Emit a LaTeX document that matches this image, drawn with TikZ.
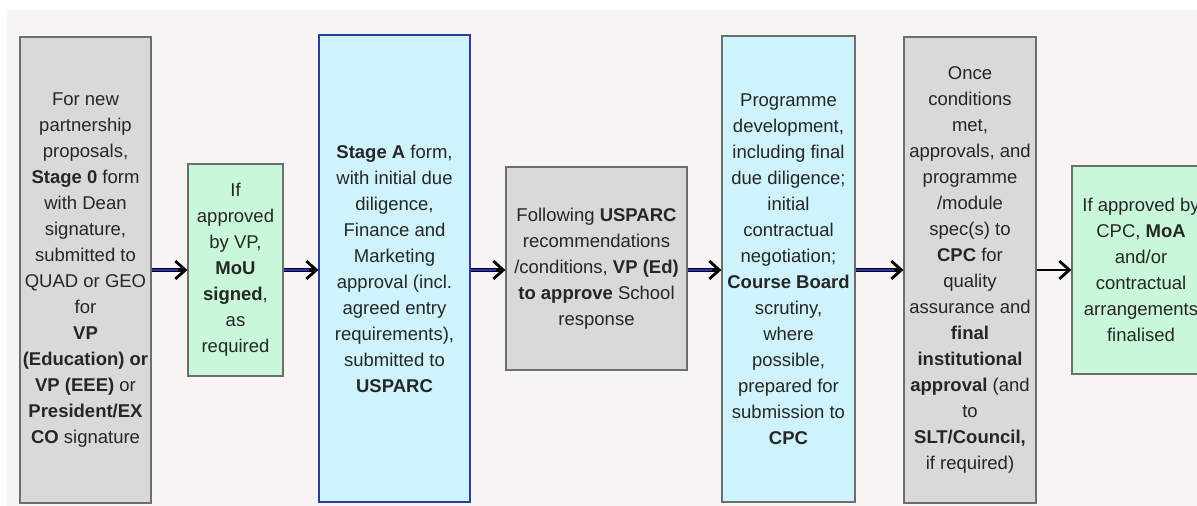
\documentclass[tikz,border=0pt]{standalone}
\usepackage{fontspec}
\setmainfont{Liberation Sans}
\usetikzlibrary{arrows.meta}
\definecolor{bgc}{HTML}{F6F5F3}
\definecolor{grayfill}{HTML}{D9D9D9}
\definecolor{grayline}{HTML}{6E6E6E}
\definecolor{greenfill}{HTML}{C9F7DA}
\definecolor{bluefill}{HTML}{CFF3FB}
\definecolor{blueline}{HTML}{2E3D98}
\definecolor{txt}{HTML}{262626}
\definecolor{arrblue}{HTML}{2830C8}
\tikzset{
  box/.style={rectangle, draw=grayline, line width=1.2pt, align=center, text=txt,
    inner sep=1pt, font=\fontsize{18.5}{26}\selectfont},
  graybox/.style={box, fill=grayfill},
  greenbox/.style={box, fill=greenfill},
  bluebox/.style={box, fill=bluefill},
  head/.style={-{Straight Barb[length=10pt,width=18pt,line width=2.8pt]}},
  outerarrow/.style={head, line width=4.6pt, black},
  innerarrow/.style={line width=2pt, arrblue, shorten >=9pt},
  plainarrow/.style={head, line width=2.8pt, black}
}
\begin{document}
\begin{tikzpicture}[x=1pt,y=-1pt]
\useasboundingbox (0,0) rectangle (1197,506);
\clip (0,0) rectangle (1197,506);
\fill[white] (0,0) rectangle (1197,506);
\fill[bgc] (7,10) rectangle (1197,506);

\node[graybox, minimum width=131pt, minimum height=466pt] (b1) at (85.5,270)
 {For new\\partnership\\proposals,\\\textbf{Stage 0} form\\with Dean\\signature,\\submitted to\\QUAD or GEO\\for\\\textbf{VP}\\\textbf{(Education) or}\\\textbf{VP (EEE)} or\\\textbf{President/EX}\\\textbf{CO} signature};
\node[greenbox, minimum width=95pt, minimum height=212pt] (b2) at (235.5,270)
 {If\\approved\\by VP,\\\textbf{MoU}\\\textbf{signed},\\as\\required};
\node[bluebox, draw=blueline, minimum width=151pt, minimum height=467pt] (b3) at (394.5,268.5)
 {\textbf{Stage A} form,\\with initial due\\diligence,\\Finance and\\Marketing\\approval (incl.\\agreed entry\\requirements),\\submitted to\\\textbf{USPARC}};
\node[graybox, minimum width=181pt, minimum height=203pt] (b4) at (596.5,268.5)
 {Following \textbf{USPARC}\\recommendations\\/conditions, \textbf{VP (Ed)}\\\textbf{to approve} School\\response};
\node[bluebox, minimum width=133pt, minimum height=466pt] (b5) at (788.5,269)
 {Programme\\development,\\including final\\due diligence;\\initial\\contractual\\negotiation;\\\textbf{Course Board}\\scrutiny,\\where\\possible,\\prepared for\\submission to\\\textbf{CPC}};
\node[graybox, minimum width=132pt, minimum height=466pt] (b6) at (970,270)
 {Once\\conditions\\met,\\approvals, and\\programme\\/module\\spec(s) to\\\textbf{CPC} for\\quality\\assurance and\\\textbf{final}\\\textbf{institutional}\\\textbf{approval} (and\\to\\\textbf{SLT/Council,}\\if required)};
\node[greenbox, minimum width=138pt, minimum height=208pt] (b7) at (1141,270)
 {If approved by\\CPC, \textbf{MoA}\\and/or\\contractual\\arrangements\\finalised};

\foreach \a/\b in {b1/b2,b2/b3,b3/b4,b4/b5,b5/b6}{
  \draw[outerarrow] (\a.east |- 0,270) -- (\b.west |- 0,270);
  \draw[innerarrow] (\a.east |- 0,270) -- (\b.west |- 0,270);
}
\draw[plainarrow] (b6.east |- 0,270) -- (b7.west |- 0,270);
\end{tikzpicture}
\end{document}
